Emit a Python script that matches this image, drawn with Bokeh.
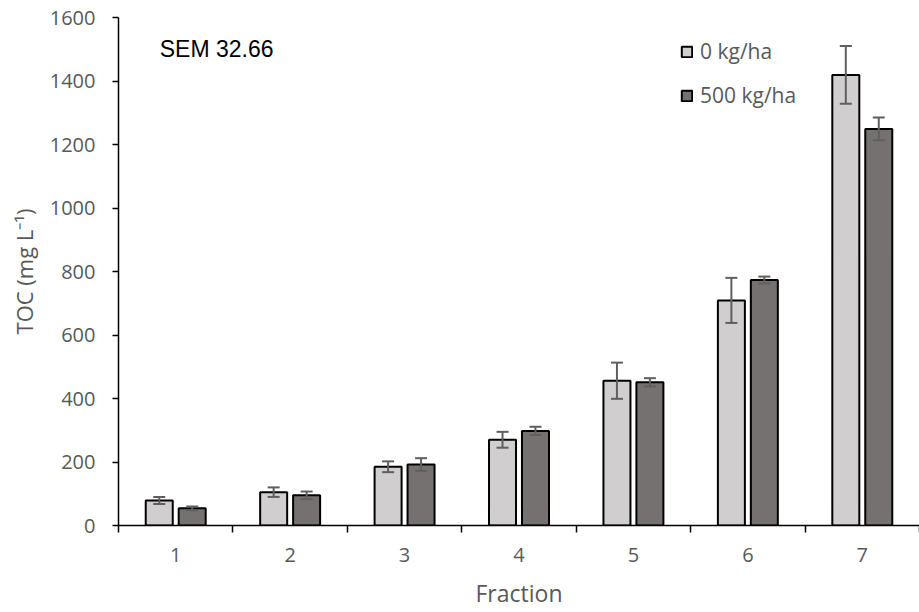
from bokeh.plotting import figure
from bokeh.models import (ColumnDataSource, Range1d, FixedTicker, Whisker, TeeHead,
                          Legend, LegendItem, Label)
from bokeh.transform import dodge
from bokeh.embed import file_html
from bokeh.resources import INLINE

fractions = [1, 2, 3, 4, 5, 6, 7]
tick_labels = ["1", "2", "3", "4", "5", "6", "7"]
toc_0 = [79, 105, 185, 270, 456, 709, 1419]
err_0 = [11, 15, 17, 25, 57, 71, 91]
toc_500 = [54, 95, 192, 298, 451, 773, 1249]
err_500 = [6, 12, 20, 13, 13, 11, 36]
series_names = ["0 kg/ha", "500 kg/ha"]
sem_text = "SEM 32.66"

FONT = "Open Sans"
GREY = "#595959"

src = ColumnDataSource(dict(
    x=fractions,
    a=toc_0, a_lo=[v - e for v, e in zip(toc_0, err_0)], a_hi=[v + e for v, e in zip(toc_0, err_0)],
    b=toc_500, b_lo=[v - e for v, e in zip(toc_500, err_500)], b_hi=[v + e for v, e in zip(toc_500, err_500)],
))

p = figure(width=919, height=612, output_backend="svg", toolbar_location=None,
           x_range=Range1d(0.5, 7.5), y_range=Range1d(0, 1600),
           min_border_left=118, min_border_right=0, min_border_top=17, min_border_bottom=87)
p.outline_line_color = None
p.xgrid.visible = False
p.ygrid.visible = False

off = 0.144
bw = 0.236
r0 = p.vbar(x=dodge("x", -off, range=p.x_range), top="a", width=bw, source=src,
            fill_color="#d0cece", line_color="black", line_width=2)
r1 = p.vbar(x=dodge("x", off, range=p.x_range), top="b", width=bw, source=src,
            fill_color="#767171", line_color="black", line_width=2)

ecol = "#5f5f5f"
for base, lo, hi in [(dodge("x", -off, range=p.x_range), "a_lo", "a_hi"),
                     (dodge("x", off, range=p.x_range), "b_lo", "b_hi")]:
    w = Whisker(base=base, lower=lo, upper=hi, source=src, line_color=ecol, line_width=2,
                level="annotation",
                upper_head=TeeHead(size=12, line_color=ecol, line_width=2),
                lower_head=TeeHead(size=12, line_color=ecol, line_width=2))
    p.add_layout(w)

# axes
p.xaxis.ticker = FixedTicker(ticks=fractions, minor_ticks=[f - 0.5 for f in fractions] + [fractions[-1] + 0.5])
p.xaxis.major_label_overrides = {f: t for f, t in zip(fractions, tick_labels)}
p.xaxis.major_tick_out = 0
p.xaxis.major_tick_in = 0
p.xaxis.minor_tick_out = 7
p.xaxis.minor_tick_in = 0
p.xaxis.major_label_standoff = 15
p.xaxis.axis_label = "Fraction"
p.xaxis.axis_label_standoff = 12

p.yaxis.ticker = FixedTicker(ticks=list(range(0, 1601, 200)))
p.yaxis.major_tick_out = 6
p.yaxis.major_tick_in = 0
p.yaxis.minor_tick_out = 0
p.yaxis.minor_tick_in = 0
p.yaxis.major_label_standoff = 17
p.yaxis.axis_label = "TOC (mg L\u207b\u00b9)"
p.yaxis.axis_label_standoff = 8

for ax in (p.xaxis[0], p.yaxis[0]):
    ax.axis_line_color = "black"
    ax.axis_line_width = 1.5
    ax.major_tick_line_color = "black"
    ax.major_tick_line_width = 1.5
    ax.minor_tick_line_color = "black"
    ax.minor_tick_line_width = 1.5
    ax.major_label_text_font = FONT
    ax.major_label_text_font_size = "20px"
    ax.major_label_text_color = GREY
    ax.axis_label_text_font = FONT
    ax.axis_label_text_font_style = "normal"
    ax.axis_label_text_color = GREY
p.xaxis.axis_label_text_font_size = "23px"
p.yaxis.axis_label_text_font_size = "22px"

legend = Legend(items=[LegendItem(label=series_names[0], renderers=[r0]),
                       LegendItem(label=series_names[1], renderers=[r1])],
                location=(562, 416), orientation="vertical",
                glyph_width=13, glyph_height=13, label_height=28, spacing=16,
                padding=0, margin=0, label_standoff=7,
                border_line_color=None, background_fill_alpha=0,
                label_text_font=FONT, label_text_font_size="21px", label_text_color=GREY)
p.add_layout(legend)

p.add_layout(Label(x=0.86, y=1500, text=sem_text, text_font="Liberation Sans",
                   text_font_size="23px", text_baseline="middle", text_align="left",
                   text_color="black"))

open("out.html", "w").write(file_html(p, INLINE))
